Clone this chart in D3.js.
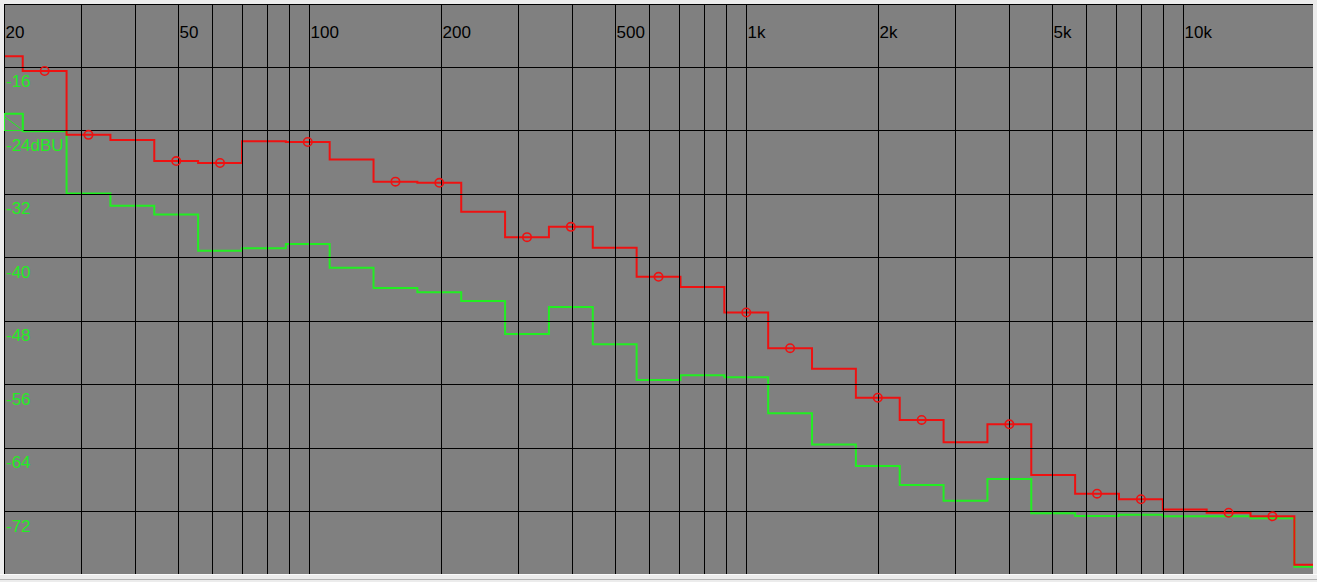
<!DOCTYPE html>
<html>
<head>
<meta charset="utf-8">
<script src="https://cdn.jsdelivr.net/npm/d3@7"></script>
<style>
  html, body { margin: 0; padding: 0; background: #ececec; overflow: hidden; }
  svg { display: block; }
  text { font-family: "Liberation Sans", Arial, sans-serif; font-size: 17px; }
</style>
</head>
<body>
<svg id="chart" width="1317" height="582"></svg>
<script>
// ---- data (1/3-octave bands) ----
const bandLabels = ["20","25","31.5","40","50","63","80","100","125","160","200","250","315","400","500","630","800",
  "1k","1.25k","1.6k","2k","2.5k","3.15k","4k","5k","6.3k","8k","10k","12.5k","16k","20k"];
const redLevels = [-14.6, -16.45, -24.5, -25.15, -27.8, -28.05, -25.3, -25.4, -27.6, -30.4, -30.55, -34.2, -37.4, -36.1,
  -38.75, -42.4, -43.7, -46.9, -51.4, -54.0, -57.65, -60.45, -63.25, -61.0, -67.4, -69.75, -70.45, -71.75, -72.15, -72.6, -78.7];
const greenLevels = [-21.85, -24.05, -31.9, -33.45, -34.55, -39.1, -38.8, -38.25, -41.25, -43.8, -44.35, -45.45, -49.6, -46.2,
  -50.9, -55.4, -54.8, -55.05, -59.6, -63.55, -66.25, -68.65, -70.65, -67.9, -72.2, -72.55, -72.4, -72.6, -72.6, -72.85, -78.95];
const markerBands = ["25","31.5","50","63","100","160","200","315","400","630","1k","1.25k","2k","2.5k","4k","6.3k","8k","12.5k","16k"];

const gridFreqs = [20,30,40,50,60,70,80,90,100,200,300,400,500,600,700,800,900,
  1000,2000,3000,4000,5000,6000,7000,8000,9000,10000];
const freqLabelValues = [20,50,100,200,500,1000,2000,5000,10000];
const freqLabelTexts = ["20","50","100","200","500","1k","2k","5k","10k"];
const dbGrid = [-8,-16,-24,-32,-40,-48,-56,-64,-72];
const dbLabelValues = [-16,-24,-32,-40,-48,-56,-64,-72];
const dbLabelTexts = ["-16","-24dBU","-32","-40","-48","-56","-64","-72"];

// ---- layout ----
const W = 1317, H = 582;
const plot = {x0: 4, y0: 4, x1: 1313, y1: 574};

const x = d3.scaleLog().domain([20, 20000]).range([3.8, 1314.8]);
const y = d3.scaleLinear().domain([-8, -80]).range([4, 575]);

const svg = d3.select("#chart");

// frame
svg.append("rect").attr("x",0).attr("y",0).attr("width",W).attr("height",H).attr("fill","#ececec");
svg.append("line").attr("x1",0).attr("x2",W).attr("y1",574.5).attr("y2",574.5).attr("stroke","#fafafa");
svg.append("line").attr("x1",0).attr("x2",W).attr("y1",579.5).attr("y2",579.5).attr("stroke","#b4b4b4");
svg.append("rect").attr("x",plot.x0).attr("y",plot.y0)
  .attr("width",plot.x1-plot.x0).attr("height",plot.y1-plot.y0).attr("fill","#808080");

svg.append("clipPath").attr("id","clip").append("rect")
  .attr("x",plot.x0).attr("y",plot.y0).attr("width",plot.x1-plot.x0).attr("height",plot.y1-plot.y0);

const g = svg.append("g").attr("clip-path","url(#clip)");

// band geometry
const nominal = s => s.endsWith("k") ? parseFloat(s) * 1000 : parseFloat(s);
const exactCenter = s => 1000 * Math.pow(2, Math.round(3 * Math.log2(nominal(s) / 1000)) / 3);
const sixth = Math.pow(2, 1/6);

function stepPoints(levels) {
  const pts = [];
  bandLabels.forEach((b, i) => {
    const fc = exactCenter(b);
    pts.push([fc / sixth, levels[i]]);
    pts.push([fc * sixth, levels[i]]);
  });
  return pts;
}
const line = d3.line().x(d => x(d[0])).y(d => y(d[1]));

g.append("path").attr("d", line(stepPoints(greenLevels)))
  .attr("fill","none").attr("stroke","#22ee22").attr("stroke-width",2);
g.append("path").attr("d", line(stepPoints(redLevels)))
  .attr("fill","none").attr("stroke","#ee1111").attr("stroke-width",2);

// grid (drawn over the traces)
const grid = g.append("g");
grid.selectAll("line.v").data(gridFreqs).join("line").attr("class","v")
  .attr("x1", d => Math.round(x(d)) + 0.5).attr("x2", d => Math.round(x(d)) + 0.5)
  .attr("y1", plot.y0).attr("y2", plot.y1)
  .attr("stroke","#000").attr("stroke-width",1);
grid.selectAll("line.h").data(dbGrid).join("line").attr("class","h")
  .attr("y1", d => Math.floor(y(d)) + 0.5).attr("y2", d => Math.floor(y(d)) + 0.5)
  .attr("x1", plot.x0).attr("x2", plot.x1)
  .attr("stroke","#000").attr("stroke-width",1);

// markers
g.selectAll("circle.m").data(markerBands).join("circle").attr("class","m")
  .attr("cx", b => x(exactCenter(b)))
  .attr("cy", b => y(redLevels[bandLabels.indexOf(b)]))
  .attr("r", 4.2).attr("fill","none").attr("stroke","#ee1111").attr("stroke-width",1.6);

// little green box at top-left
g.append("rect").attr("x",4.5).attr("y",113.5).attr("width",18.5).attr("height",17)
  .attr("fill","none").attr("stroke","#22ee22").attr("stroke-width",1);
g.append("line").attr("x1",5).attr("y1",117).attr("x2",20.5).attr("y2",128.5)
  .attr("stroke","#22ee22").attr("stroke-width",1);

// frequency labels
g.selectAll("text.f").data(freqLabelValues).join("text").attr("class","f")
  .attr("x", d => Math.round(x(d)) + 1.5).attr("y", 37.5)
  .attr("fill","#000")
  .text((d, i) => freqLabelTexts[i]);

// level labels
g.selectAll("text.db").data(dbLabelValues).join("text").attr("class","db")
  .attr("x", 6).attr("y", d => y(d) + 20)
  .attr("fill","#22ee22")
  .text((d, i) => dbLabelTexts[i]);
</script>
</body>
</html>
